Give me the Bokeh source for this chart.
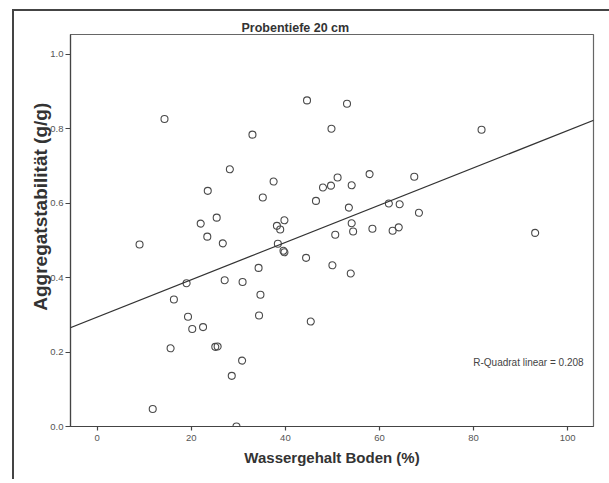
from bokeh.plotting import figure
from bokeh.models import Range1d, FixedTicker, Label, Slope, PrintfTickFormatter
from bokeh.embed import file_html
from bokeh.resources import INLINE

# --- data ---
water = [14.3, 33.0, 28.2, 37.5, 23.5, 35.2, 25.4, 22.0, 39.8, 38.2,
         38.9, 23.4, 26.7, 9.0, 38.4, 39.6, 39.8, 44.6, 44.4, 53.1,
         49.8, 81.7, 51.1, 57.9, 67.4, 48.0, 49.7, 54.1, 46.5, 53.5,
         62.0, 64.3, 68.4, 54.1, 54.4, 58.5, 62.8, 64.1, 50.6, 19.0,
         27.1, 30.9, 34.3, 34.7, 16.3, 19.3, 34.4, 20.2, 22.5, 45.4,
         15.6, 25.1, 25.6, 30.8, 28.6, 11.8, 29.6, 50.0, 53.9, 93.1]
stability = [0.826, 0.784, 0.691, 0.658, 0.633, 0.615, 0.561, 0.545, 0.554, 0.539,
             0.529, 0.510, 0.492, 0.489, 0.491, 0.472, 0.468, 0.876, 0.453, 0.867,
             0.800, 0.797, 0.669, 0.678, 0.671, 0.642, 0.647, 0.648, 0.606, 0.588,
             0.599, 0.597, 0.574, 0.546, 0.524, 0.531, 0.526, 0.535, 0.515, 0.385,
             0.393, 0.388, 0.426, 0.354, 0.341, 0.295, 0.298, 0.262, 0.267, 0.282,
             0.210, 0.214, 0.215, 0.177, 0.136, 0.047, 0.000, 0.433, 0.411, 0.520]
x_ticks = [0, 20, 40, 60, 80, 100]
y_ticks = [0.0, 0.2, 0.4, 0.6, 0.8, 1.0]
fit_intercept = 0.294
fit_slope = 0.00501
r2_text = "R-Quadrat linear = 0.208"
title_text = "Probentiefe 20 cm"
x_label = "Wassergehalt Boden (%)"
y_label = "Aggregatstabilität (g/g)"

FONT = "Liberation Sans"
DARK = "#333333"
GREY = "#555555"

p = figure(width=609, height=479, output_backend="svg", toolbar_location=None,
           x_range=Range1d(-5.68, 105.5), y_range=Range1d(0.0, 1.053),
           min_border_left=70, min_border_right=16, min_border_top=34, min_border_bottom=53,
           title=title_text)
# outer chart box (left and top edges) drawn as the page background behind a transparent border
p.styles = {"background": "linear-gradient(#444444, #444444) 12px 9px / 2px 100% no-repeat, "
                          "linear-gradient(#444444, #444444) 12px 9px / 100% 2px no-repeat, white",
            "overflow": "hidden", "vertical-align": "top"}
p.background_fill_color = "white"
p.border_fill_color = None
p.outline_line_color = "#666666"
p.outline_line_width = 1.2
p.xgrid.visible = False
p.ygrid.visible = False

p.title.text_font = FONT
p.title.text_font_size = "12.5px"
p.title.text_font_style = "bold"
p.title.text_color = DARK
p.title.align = "left"
p.title.offset = 171
p.title.standoff = 0

# axes
for ax in (p.xaxis[0], p.yaxis[0]):
    ax.axis_line_color = "#444444"
    ax.axis_line_width = 1.2
    ax.major_tick_line_color = "#444444"
    ax.major_tick_line_width = 1.2
    ax.major_tick_in = 0
    ax.minor_tick_in = 0
    ax.minor_tick_out = 0
    ax.major_label_text_font = FONT
    ax.major_label_text_font_size = "9.5px"
    ax.major_label_text_color = GREY
    ax.axis_label_text_font = FONT
    ax.axis_label_text_font_style = "bold"
    ax.axis_label_text_color = DARK

p.xaxis.ticker = FixedTicker(ticks=x_ticks)
p.yaxis.ticker = FixedTicker(ticks=y_ticks)
p.yaxis.formatter = PrintfTickFormatter(format="%.1f")
p.xaxis.major_tick_out = 4
p.yaxis.major_tick_out = 5
p.xaxis.major_label_standoff = 4
p.yaxis.major_label_standoff = 2
p.xaxis.axis_label = x_label
p.yaxis.axis_label = "\u00a0" * 9 + y_label
p.xaxis.axis_label_text_font_size = "15px"
p.yaxis.axis_label_text_font_size = "19px"
p.xaxis.axis_label_standoff = 5
p.yaxis.axis_label_standoff = -4

# regression line
p.add_layout(Slope(gradient=fit_slope, y_intercept=fit_intercept,
                   line_color="#333333", line_width=1.3))

# points
p.scatter(water, stability, marker="circle", size=7, fill_color=None,
          line_color="#4a4a4a", line_width=1.1)

# R² text
p.add_layout(Label(x=103.4, y=0.1725, text=r2_text, text_align="right",
                   text_baseline="middle", text_font=FONT, text_font_size="10px",
                   text_color="#444444"))

open("out.html", "w").write(file_html(p, INLINE))
